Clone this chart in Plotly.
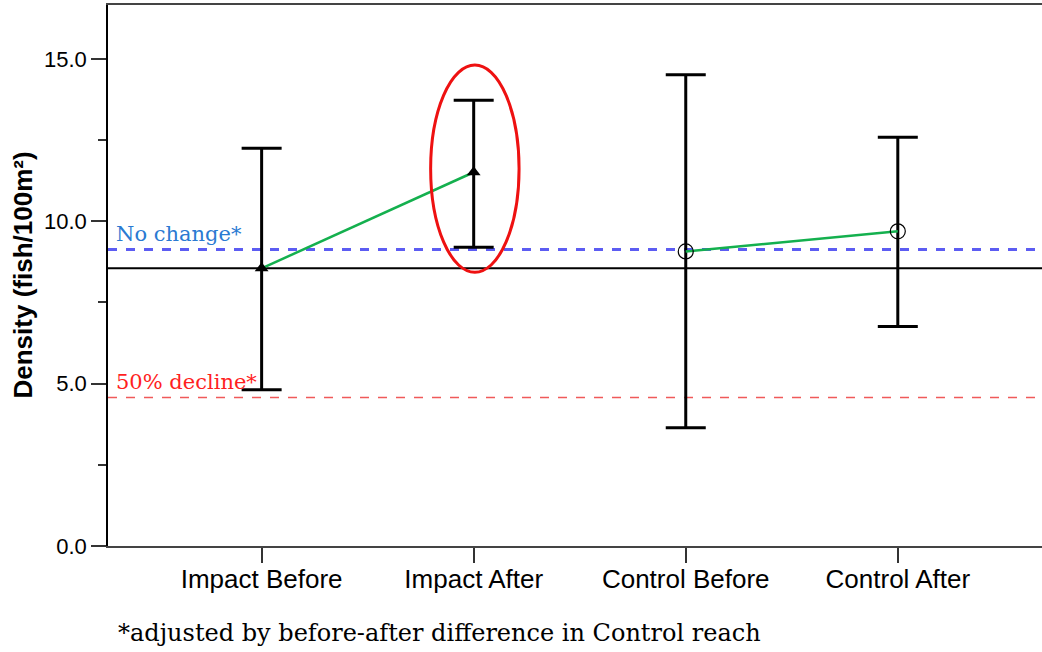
import plotly.graph_objects as go

categories = ["Impact Before", "Impact After", "Control Before", "Control After"]
means = [8.55, 11.51, 9.07, 9.69]
upper = [12.25, 13.73, 14.51, 12.59]
lower = [4.81, 9.20, 3.64, 6.76]
baseline_level = 8.55
no_change_level = 9.13
decline_level = 4.57
y_ticks = [0.0, 5.0, 10.0, 15.0]
highlight_x = [0.797, 1.214]
highlight_y = [8.43, 14.81]
footnote = "*adjusted by before-after difference in Control reach"

xpos = list(range(len(categories)))
err_plus = [u - m for u, m in zip(upper, means)]
err_minus = [m - l for m, l in zip(means, lower)]

fig = go.Figure()

# reference lines
for lvl, col, dash, w in [(baseline_level, "black", "solid", 2),
                          (no_change_level, "#5c5cf2", "dash", 2.8),
                          (decline_level, "#f05a5a", "dash", 1.5)]:
    fig.add_shape(type="line", xref="paper", x0=0, x1=1, yref="y", y0=lvl, y1=lvl,
                  line=dict(color=col, width=w, dash=dash), layer="below")

# error bars
fig.add_trace(go.Scatter(
    x=xpos, y=means, mode="markers",
    marker=dict(size=1, color="rgba(0,0,0,0)"),
    error_y=dict(type="data", symmetric=False, array=err_plus, arrayminus=err_minus,
                 color="black", thickness=3, width=20),
    showlegend=False, hoverinfo="skip"))

# green connecting lines
fig.add_trace(go.Scatter(x=xpos[0:2], y=means[0:2], mode="lines",
                         line=dict(color="#14b04e", width=2.5), showlegend=False))
fig.add_trace(go.Scatter(x=xpos[2:4], y=means[2:4], mode="lines",
                         line=dict(color="#14b04e", width=2.5), showlegend=False))

# markers
fig.add_trace(go.Scatter(x=xpos[0:2], y=means[0:2], mode="markers",
                         marker=dict(symbol="triangle-up", size=12, color="black"),
                         showlegend=False))
fig.add_trace(go.Scatter(x=xpos[2:4], y=means[2:4], mode="markers",
                         marker=dict(symbol="circle-open", size=15, color="black",
                                     line=dict(width=1.2, color="black")),
                         showlegend=False))

# highlight ellipse
fig.add_shape(type="circle", xref="x", yref="y",
              x0=highlight_x[0], x1=highlight_x[1], y0=highlight_y[0], y1=highlight_y[1],
              line=dict(color="#ee1111", width=3))

fig.add_annotation(text="No change*", xref="paper", x=0.006, xanchor="left",
                   yref="y", y=9.6, yanchor="middle", showarrow=False,
                   font=dict(family="DejaVu Serif", size=21, color="#2a7ad2"))
fig.add_annotation(text="50% decline*", xref="paper", x=0.006, xanchor="left",
                   yref="y", y=5.05, yanchor="middle", showarrow=False,
                   font=dict(family="DejaVu Serif", size=21, color="#ff1f1f"))
fig.add_annotation(text=footnote, xref="paper", x=0.009, xanchor="left",
                   yref="paper", y=-0.161, yanchor="middle", showarrow=False,
                   font=dict(family="DejaVu Serif", size=24, color="black"))
fig.add_annotation(text="<b>Density (fish/100m²)</b>", xref="paper", x=0, xshift=-86,
                   xanchor="center", yref="paper", y=0.5, yanchor="middle",
                   textangle=-90, showarrow=False,
                   font=dict(family="Liberation Sans", size=26, color="black"))

fig.update_layout(
    width=1042, height=652,
    margin=dict(l=108, r=0, t=5, b=106),
    paper_bgcolor="white", plot_bgcolor="white",
    font=dict(family="Liberation Sans", color="black"),
    showlegend=False,
)
fig.update_xaxes(
    range=[-0.7245, 3.68], tickmode="array", tickvals=xpos, ticktext=categories,
    ticks="outside", ticklen=15, tickwidth=1.5, tickcolor="#333",
    ticklabelstandoff=-6,
    showline=True, linecolor="#444", linewidth=1.5, mirror=True,
    showgrid=False, zeroline=False,
    tickfont=dict(family="Liberation Sans", size=26, color="black"),
)
fig.update_yaxes(
    range=[0, 16.66], tickmode="array", tickvals=y_ticks,
    ticktext=[f"{v:.1f}" for v in y_ticks],
    ticks="outside", ticklen=15, tickwidth=1.5, tickcolor="#333",
    minor=dict(tickmode="linear", tick0=0, dtick=2.5, ticks="outside", ticklen=8,
               tickwidth=1.5, tickcolor="#333", showgrid=False),
    showline=True, linecolor="black", linewidth=1.5,
    showgrid=False, zeroline=False,
    tickfont=dict(family="Liberation Sans", size=22, color="black"),
)

fig.write_html("out.html", config={"displayModeBar": False},
               post_script="document.body.style.margin='0';")
